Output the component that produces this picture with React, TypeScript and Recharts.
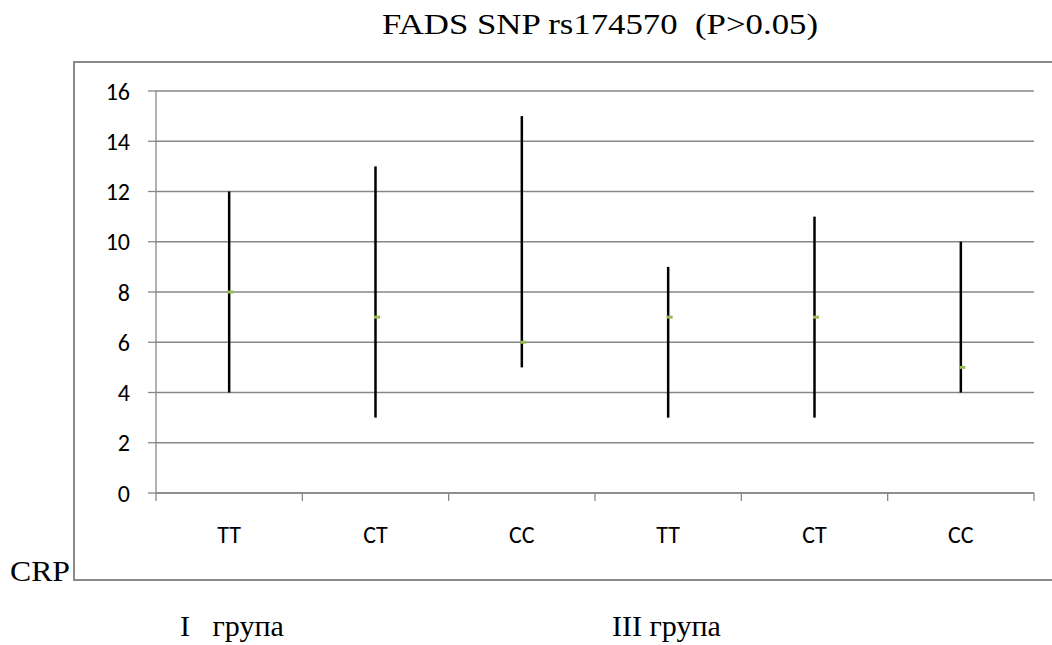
import { ScatterChart, Scatter, XAxis, YAxis, CartesianGrid, ErrorBar } from "recharts";

const GENOTYPES = ["TT", "CT", "CC", "TT", "CT", "CC"];
const MEANS = [8, 7, 6, 7, 7, 5];
const LOWS = [4, 3, 5, 3, 3, 4];
const HIGHS = [12, 13, 15, 9, 11, 10];
const Y_TICKS = [0, 2, 4, 6, 8, 10, 12, 14, 16];
// boundaries get a tick mark, centres get the genotype label
const X_TICKS = [0, 0.5, 1, 1.5, 2, 2.5, 3, 3.5, 4, 4.5, 5, 5.5, 6];
const GROUP_LABELS = ["I   група", "III група"];

const W = 1052;
const H = 645;
const GRID = "#878787";
const TICK_FONT = "Carlito, Calibri, Lato, sans-serif";

const rows = GENOTYPES.map((g, i) => ({
  x: i + 0.5,
  name: g,
  mean: MEANS[i],
  err: [MEANS[i] - LOWS[i], HIGHS[i] - MEANS[i]],
}));

const Marker = (props: any) => (
  <rect x={props.cx - 1.5} y={props.cy - 1.5} width={6} height={3} fill="#9BBB59" />
);

const XTick = (props: any) => {
  const { x, y, payload } = props;
  const v = payload.value;
  if (Number.isInteger(v)) {
    return <line x1={x} x2={x} y1={y - 8} y2={y} stroke={GRID} strokeWidth={1.3} />;
  }
  return (
    <text x={x} y={y + 42} textAnchor="middle" fontSize={24} fontFamily={TICK_FONT} fill="#000">
      {GENOTYPES[Math.floor(v)]}
    </text>
  );
};

export default function App() {
  return (
    <div style={{ position: "absolute", left: 0, top: 0, width: W, height: H, overflow: "hidden", background: "#fff" }}>
      {/* outer frame, runs off the right edge like the source */}
      <div
        style={{
          position: "absolute",
          left: 73,
          top: 61,
          width: 1100,
          height: 520,
          border: "2px solid #8a8a8a",
          boxSizing: "border-box",
        }}
      />
      <div style={{ position: "absolute", left: 0, top: 0 }}>
        <ScatterChart width={W} height={H} margin={{ top: 91, right: 18, bottom: 84, left: 96 }}>
          <CartesianGrid vertical={false} stroke={GRID} strokeWidth={1.3} />
          <XAxis
            type="number"
            dataKey="x"
            domain={[0, 6]}
            ticks={X_TICKS}
            interval={0}
            tick={<XTick />}
            tickLine={false}
            tickSize={8}
            tickMargin={0}
            height={68}
            axisLine={{ stroke: GRID, strokeWidth: 1.3 }}
            allowDataOverflow
          />
          <YAxis
            type="number"
            dataKey="mean"
            domain={[0, 16]}
            ticks={Y_TICKS}
            interval={0}
            width={60}
            tickSize={8}
            tickMargin={18}
            axisLine={{ stroke: GRID, strokeWidth: 1.3 }}
            tickLine={{ stroke: GRID, strokeWidth: 1.3 }}
            tick={{ fill: "#000", fontSize: 24, fontFamily: TICK_FONT }}
          />
          <Scatter data={rows} dataKey="mean" shape={Marker} isAnimationActive={false}>
            <ErrorBar dataKey="err" direction="y" width={0} stroke="#000" strokeWidth={2.5} />
          </Scatter>
        </ScatterChart>
      </div>
      <svg width={W} height={H} style={{ position: "absolute", left: 0, top: 0, pointerEvents: "none" }}>
        <g fontFamily="'Liberation Serif', 'Times New Roman', serif" fill="#000">
          <text x={382} y={34} fontSize={30} textLength={436} lengthAdjust="spacingAndGlyphs" xmlSpace="preserve">
            FADS SNP rs174570  (P&gt;0.05)
          </text>
          <text x={10} y={581} fontSize={30} textLength={60} lengthAdjust="spacingAndGlyphs">CRP</text>
          <text x={180} y={636} fontSize={30} xmlSpace="preserve" style={{ whiteSpace: "pre" }}>
            {GROUP_LABELS[0]}
          </text>
          <text x={612} y={636} fontSize={30} xmlSpace="preserve" style={{ whiteSpace: "pre" }}>
            {GROUP_LABELS[1]}
          </text>
        </g>
      </svg>
    </div>
  );
}
